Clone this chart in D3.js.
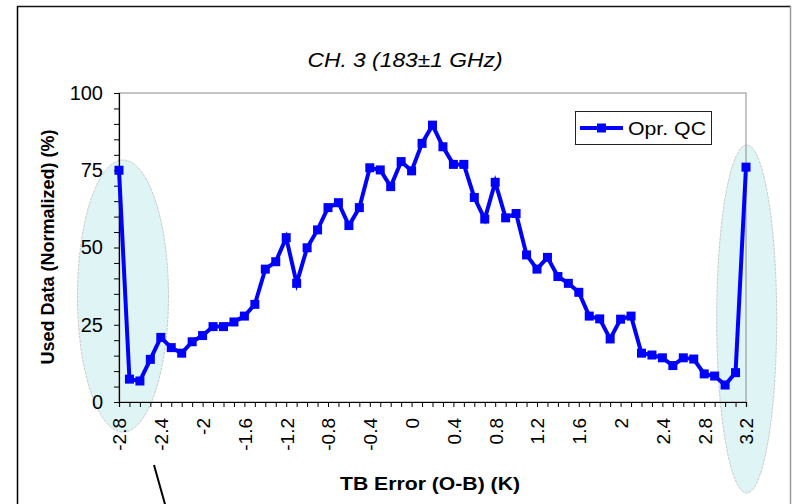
<!DOCTYPE html>
<html>
<head>
<meta charset="utf-8">
<script src="https://cdn.jsdelivr.net/npm/d3@7"></script>
<style>
  html, body { margin: 0; padding: 0; background: #ffffff; }
  svg { display: block; font-family: "Liberation Sans", Arial, sans-serif; }
</style>
</head>
<body>
<svg id="chart" width="792" height="504"></svg>
<script>
// ---- data ----
const title = "CH. 3 (183\u00b11 GHz)";
const xTitle = "TB Error (O-B) (K)";
const yTitle = "Used Data (Normalized) (%)";
const seriesName = "Opr. QC";

const categories = [
  "-2.8","-2.7","-2.6","-2.5","-2.4","-2.3","-2.2","-2.1","-2","-1.9",
  "-1.8","-1.7","-1.6","-1.5","-1.4","-1.3","-1.2","-1.1","-1","-0.9",
  "-0.8","-0.7","-0.6","-0.5","-0.4","-0.3","-0.2","-0.1","0","0.1",
  "0.2","0.3","0.4","0.5","0.6","0.7","0.8","0.9","1","1.1",
  "1.2","1.3","1.4","1.5","1.6","1.7","1.8","1.9","2","2.1",
  "2.2","2.3","2.4","2.5","2.6","2.7","2.8","2.9","3","3.1","3.2"
];
const values = [
  75, 7.4, 6.8, 13.8, 20.9, 17.6, 15.8, 19.5, 21.5, 24.4,
  24.4, 25.9, 27.8, 31.6, 43, 45.4, 53.2, 38.4, 49.9, 55.7,
  62.9, 64.5, 57.1, 62.9, 75.8, 75.1, 69.7, 77.8, 74.8, 83.7,
  89.6, 82.6, 76.9, 76.9, 66.2, 59.2, 71.1, 59.6, 61, 47.6,
  43, 46.8, 40.6, 38.4, 35.5, 27.8, 26.9, 20.4, 26.8, 27.8,
  15.8, 15.2, 14.3, 11.8, 14.3, 13.9, 9.1, 8.4, 5.5, 9.5, 76
];
const xTickLabels = ["-2.8","-2.4","-2","-1.6","-1.2","-0.8","-0.4","0","0.4","0.8","1.2","1.6","2","2.4","2.8","3.2"];
const yTickLabels = [0, 25, 50, 75, 100];
const yMinorTicks = [0,5,10,15,20,25,30,35,40,45,50,55,60,65,70,75,80,85,90,95,100];
// highlighted (circled) regions: the category each ellipse is centred on
const highlightLeft = "-2.8";
const highlightRight = "3.2";

// ---- layout ----
const svg = d3.select("#chart");
const L = 119, R = 746, T = 93, B = 402;

const x = d3.scalePoint().domain(categories).range([L, R]);
const y = d3.scaleLinear().domain([0, 100]).range([B, T]);

// outer chart border
svg.append("line").attr("x1", 17.5).attr("x2", 17.5).attr("y1", 6).attr("y2", 504)
  .attr("stroke", "#000").attr("stroke-width", 1.5);
svg.append("line").attr("x1", 17).attr("x2", 791).attr("y1", 6.5).attr("y2", 6.5)
  .attr("stroke", "#111").attr("stroke-width", 1.5);
svg.append("line").attr("x1", 790.5).attr("x2", 790.5).attr("y1", 6).attr("y2", 504)
  .attr("stroke", "#9a9a9a").attr("stroke-width", 1.5);

// plot area
svg.append("rect").attr("x", L).attr("y", T).attr("width", R - L).attr("height", B - T)
  .attr("fill", "#fff").attr("stroke", "none");

// highlight ellipses (behind axes and labels)
function addEllipse(cat, dx, rx, cy, ry) {
  svg.append("ellipse")
    .attr("cx", x(cat) + dx).attr("cy", cy)
    .attr("rx", rx).attr("ry", ry)
    .attr("fill", "#dff4f4")
    .attr("stroke", "#c9c9c9").attr("stroke-width", 1).attr("stroke-dasharray", "3,1");
}
addEllipse(highlightLeft, 4, 45.5, 296, 136);
addEllipse(highlightRight, 0.7, 30, 319, 174);

// plot border (top/right grey)
svg.append("rect").attr("x", L).attr("y", T).attr("width", R - L).attr("height", B - T)
  .attr("fill", "none").attr("stroke", "#8c8c8c").attr("stroke-width", 1);

// title
svg.append("text").attr("x", 405).attr("y", 67).attr("text-anchor", "middle")
  .attr("font-size", 20).attr("font-style", "italic")
  .attr("textLength", 195).attr("lengthAdjust", "spacingAndGlyphs")
  .text(title);

// axes
const xAxis = d3.axisBottom(x)
  .tickValues(categories)
  .tickSize(5)
  .tickFormat(d => xTickLabels.includes(d) ? d : "");
const gx = svg.append("g").attr("transform", `translate(0,${B})`).call(xAxis);
gx.select(".domain").attr("stroke", "#000").attr("stroke-width", 1.2);
gx.selectAll(".tick line").attr("stroke", "#000");
gx.selectAll(".tick text")
  .attr("font-size", 19)
  .attr("font-family", "Liberation Sans, Arial, sans-serif")
  .attr("fill", "#000")
  .attr("text-anchor", "end")
  .attr("transform", "rotate(-90)")
  .attr("x", -16).attr("y", 0).attr("dy", "0.36em");

const yAxis = d3.axisLeft(y)
  .tickValues(yMinorTicks)
  .tickSize(5)
  .tickPadding(11)
  .tickFormat(d => yTickLabels.includes(d) ? d : "");
const gy = svg.append("g").attr("transform", `translate(${L},0)`).call(yAxis);
gy.select(".domain").attr("stroke", "#000").attr("stroke-width", 1.2);
gy.selectAll(".tick line").attr("stroke", "#000");
gy.selectAll(".tick text")
  .attr("font-size", 20)
  .attr("font-family", "Liberation Sans, Arial, sans-serif")
  .attr("fill", "#000");

// axis titles
svg.append("text").attr("x", 430).attr("y", 490).attr("text-anchor", "middle")
  .attr("font-size", 18).attr("font-weight", "bold")
  .attr("textLength", 180).attr("lengthAdjust", "spacingAndGlyphs")
  .text(xTitle);
svg.append("text").attr("transform", "translate(54,247) rotate(-90)")
  .attr("text-anchor", "middle")
  .attr("font-size", 18).attr("font-weight", "bold")
  .text(yTitle);

// series line
const line = d3.line().x((d, i) => x(categories[i])).y(d => y(d));
svg.append("path").datum(values)
  .attr("d", line).attr("fill", "none")
  .attr("stroke", "#0000ff").attr("stroke-width", 4).attr("stroke-linejoin", "miter");
svg.append("g").selectAll("rect").data(values).join("rect")
  .attr("x", (d, i) => x(categories[i]) - 4.5)
  .attr("y", d => y(d) - 4.5)
  .attr("width", 9).attr("height", 9)
  .attr("fill", "#0000ff");

// legend
const lg = svg.append("g");
lg.append("rect").attr("x", 575.5).attr("y", 111.5).attr("width", 136).attr("height", 33)
  .attr("fill", "#fff").attr("stroke", "#222").attr("stroke-width", 1);
lg.append("line").attr("x1", 580).attr("x2", 623).attr("y1", 128).attr("y2", 128)
  .attr("stroke", "#0000ff").attr("stroke-width", 4);
lg.append("rect").attr("x", 597).attr("y", 123.5).attr("width", 9).attr("height", 9).attr("fill", "#0000ff");
lg.append("text").attr("x", 628).attr("y", 135).attr("font-size", 19)
  .attr("textLength", 78).attr("lengthAdjust", "spacingAndGlyphs")
  .text(seriesName);

// pointer line
svg.append("line").attr("x1", 154).attr("y1", 465).attr("x2", 165.5).attr("y2", 506)
  .attr("stroke", "#000").attr("stroke-width", 2);
</script>
</body>
</html>
